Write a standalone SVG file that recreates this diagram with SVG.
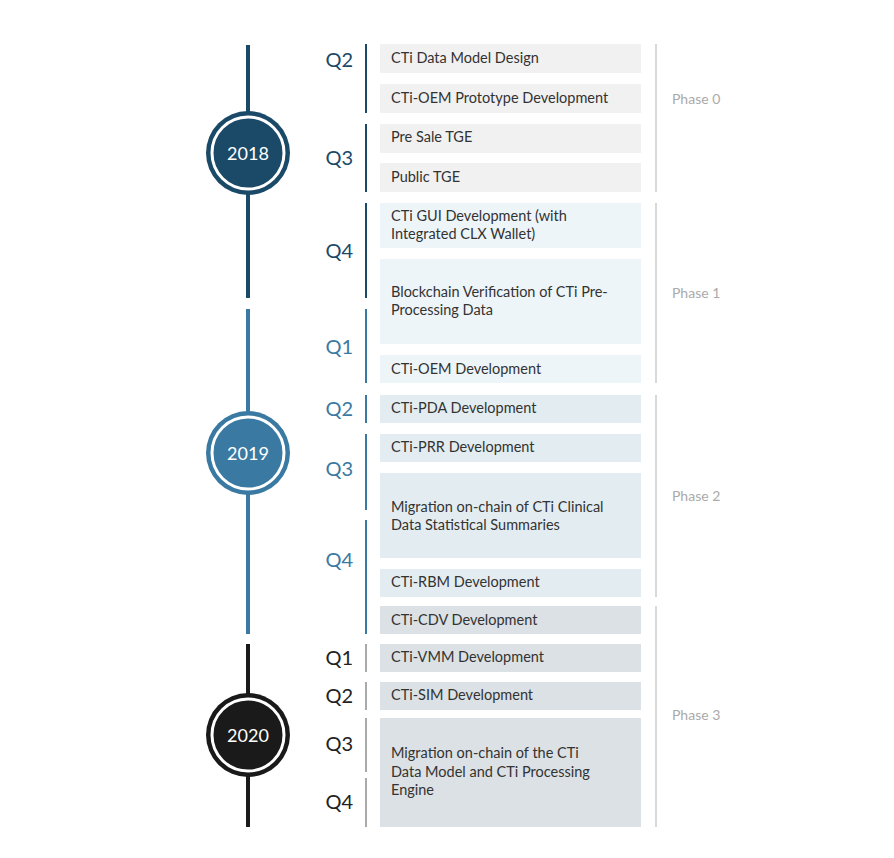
<svg xmlns="http://www.w3.org/2000/svg" width="894" height="858" viewBox="0 0 894 858">
<style>
text{font-family:Lato,"Open Sans",sans-serif}
.t{font-size:14.5px;fill:#333}
.q{font-size:20px;text-anchor:end}
.ph{font-size:14px;fill:#aaa}
.yr{font-size:18px;fill:#fff;text-anchor:middle}
.g{fill:#f1f1f1}.b{fill:#eef5f9}.c{fill:#e3edf1}.d{fill:#dbe1e4}
</style>
<rect width="894" height="858" fill="#fff"/>
<g id="connectors" fill="none">
<line x1="248" y1="45" x2="248" y2="298" stroke="#1b4a69" stroke-width="4"/>
<line x1="248" y1="309" x2="248" y2="634" stroke="#3a7aa2" stroke-width="4"/>
<line x1="248" y1="644" x2="248" y2="827" stroke="#1a1a1a" stroke-width="4"/>
<g stroke-width="2">
<line x1="366" y1="44" x2="366" y2="113" stroke="#1b4a69"/>
<line x1="366" y1="124" x2="366" y2="192" stroke="#1b4a69"/>
<line x1="366" y1="203" x2="366" y2="298" stroke="#1b4a69"/>
<line x1="366" y1="309" x2="366" y2="383" stroke="#3a7aa2"/>
<line x1="366" y1="395" x2="366" y2="423" stroke="#3a7aa2"/>
<line x1="366" y1="434" x2="366" y2="510" stroke="#3a7aa2"/>
<line x1="366" y1="520" x2="366" y2="634" stroke="#3a7aa2"/>
<line x1="366" y1="644" x2="366" y2="672" stroke="#aaa"/>
<line x1="366" y1="682" x2="366" y2="710" stroke="#aaa"/>
<line x1="366" y1="718" x2="366" y2="772" stroke="#aaa"/>
<line x1="366" y1="778" x2="366" y2="827" stroke="#aaa"/>
</g>
<g stroke="#ccc" stroke-width="1.5">
<line x1="656" y1="44" x2="656" y2="192"/>
<line x1="656" y1="203" x2="656" y2="383"/>
<line x1="656" y1="395" x2="656" y2="597"/>
<line x1="656" y1="606" x2="656" y2="827"/>
</g>
</g>
<g id="y2018"><circle cx="248" cy="153" r="42" fill="#1b4a69"/><circle cx="248" cy="153" r="36" fill="none" stroke="#fff" stroke-width="3"/><text class="yr" x="248" y="160">2018</text></g>
<g id="y2019"><circle cx="248" cy="453" r="42" fill="#3a7aa2"/><circle cx="248" cy="453" r="36" fill="none" stroke="#fff" stroke-width="3"/><text class="yr" x="248" y="460">2019</text></g>
<g id="y2020"><circle cx="248" cy="735" r="42" fill="#1a1a1a"/><circle cx="248" cy="735" r="36" fill="none" stroke="#fff" stroke-width="3"/><text class="yr" x="248" y="742">2020</text></g>
<g id="quarters">
<g fill="#1b4a69"><text class="q" x="353" y="67">Q2</text><text class="q" x="353" y="165">Q3</text><text class="q" x="353" y="258">Q4</text></g>
<g fill="#3a7aa2"><text class="q" x="353" y="354">Q1</text><text class="q" x="353" y="416">Q2</text><text class="q" x="353" y="476">Q3</text><text class="q" x="353" y="567">Q4</text></g>
<g fill="#222"><text class="q" x="353" y="665">Q1</text><text class="q" x="353" y="703">Q2</text><text class="q" x="353" y="751">Q3</text><text class="q" x="353" y="809">Q4</text></g>
</g>
<g id="phases">
<text class="ph" x="672" y="104">Phase 0</text><text class="ph" x="672" y="298">Phase 1</text><text class="ph" x="672" y="501">Phase 2</text><text class="ph" x="672" y="720">Phase 3</text>
</g>
<g id="n1"><rect class="g" x="380" y="44" width="261" height="29"/><text class="t" x="391" y="63">CTi Data Model Design</text></g>
<g id="n2"><rect class="g" x="380" y="84" width="261" height="29"/><text class="t" x="391" y="103">CTi-OEM Prototype Development</text></g>
<g id="n3"><rect class="g" x="380" y="124" width="261" height="29"/><text class="t" x="391" y="142">Pre Sale TGE</text></g>
<g id="n4"><rect class="g" x="380" y="163" width="261" height="29"/><text class="t" x="391" y="182">Public TGE</text></g>
<g id="n5"><rect class="b" x="380" y="203" width="261" height="45"/><text class="t" x="391" y="221">CTi GUI Development (with</text><text class="t" x="391" y="239">Integrated CLX Wallet)</text></g>
<g id="n6"><rect class="b" x="380" y="259" width="261" height="85"/><text class="t" x="391" y="297">Blockchain Verification of CTi Pre-</text><text class="t" x="391" y="315">Processing Data</text></g>
<g id="n7"><rect class="b" x="380" y="355" width="261" height="28"/><text class="t" x="391" y="374">CTi-OEM Development</text></g>
<g id="n8"><rect class="c" x="380" y="395" width="261" height="28"/><text class="t" x="391" y="413">CTi-PDA Development</text></g>
<g id="n9"><rect class="c" x="380" y="434" width="261" height="28"/><text class="t" x="391" y="452">CTi-PRR Development</text></g>
<g id="n10"><rect class="c" x="380" y="473" width="261" height="85"/><text class="t" x="391" y="512">Migration on-chain of CTi Clinical</text><text class="t" x="391" y="530">Data Statistical Summaries</text></g>
<g id="n11"><rect class="c" x="380" y="569" width="261" height="28"/><text class="t" x="391" y="587">CTi-RBM Development</text></g>
<g id="n12"><rect class="d" x="380" y="606" width="261" height="28"/><text class="t" x="391" y="625">CTi-CDV Development</text></g>
<g id="n13"><rect class="d" x="380" y="644" width="261" height="28"/><text class="t" x="391" y="662">CTi-VMM Development</text></g>
<g id="n14"><rect class="d" x="380" y="682" width="261" height="28"/><text class="t" x="391" y="700">CTi-SIM Development</text></g>
<g id="n15"><rect class="d" x="380" y="718" width="261" height="109"/><text class="t" x="391" y="758">Migration on-chain of the CTi</text><text class="t" x="391" y="777">Data Model and CTi Processing</text><text class="t" x="391" y="795">Engine</text></g>
</svg>
